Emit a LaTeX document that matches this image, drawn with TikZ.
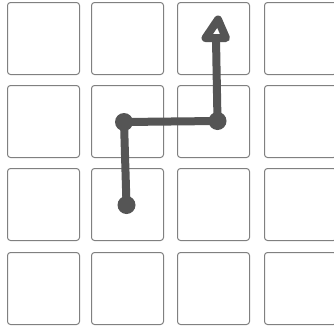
\documentclass[tikz,border=0pt]{standalone}
\begin{document}
\begin{tikzpicture}[x=1pt,y=-1pt,
  cell/.style={draw=cellgray, line width=1pt, rounded corners=3pt, fill=white},
  pathline/.style={draw=pathgray, line width=8pt, line cap=round, line join=round},
  dot/.style={circle, fill=pathgray, inner sep=0pt, minimum size=18pt}]
\definecolor{pathgray}{HTML}{555555}
\definecolor{cellgray}{HTML}{808080}
\useasboundingbox (0,0) rectangle (334,327);
\clip (0,0) rectangle (334,327);
% grid cells
\foreach \c/\x in {1/7.5, 2/91.5, 3/177.5, 4/264.5}{
  \foreach \r/\y in {1/2.5, 2/85.5, 3/168.5, 4/252.5}{
    \path[cell] (\x,\y) rectangle ++(72,72) node[coordinate] (cell\c\r) {};
  }
}
% path points
\node[dot] (start) at (126.5,205) {};
\node[dot] (c1) at (124,122) {};
\node[dot] (c2) at (217.5,121) {};
\coordinate (abase) at (216,39);
\draw[pathline] (start.center) -- (c1.center) -- (c2.center) -- (abase);
% arrowhead (open triangle)
\draw[pathline, fill=white] (205.5,38) -- (218,19.5) -- (226,38) -- cycle;
\end{tikzpicture}
\end{document}
